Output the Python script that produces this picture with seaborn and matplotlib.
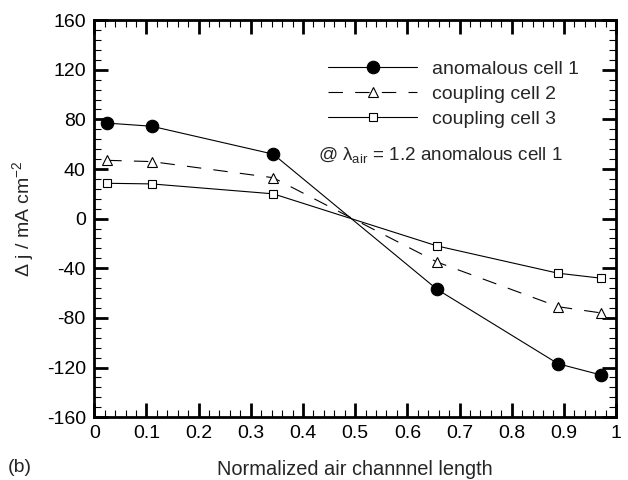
import numpy as np
import pandas as pd
import matplotlib
matplotlib.use("Agg")
import matplotlib.pyplot as plt
from matplotlib.ticker import MultipleLocator, FuncFormatter
import seaborn as sns

# data
x_pos = [0.025, 0.11, 0.343, 0.657, 0.889, 0.971]
cell1 = [77, 74.5, 52, -57, -117, -126]
cell2 = [47, 46, 33, -35, -71, -76]
cell3 = [28.5, 28, 20, -22, -44, -48]
labels = ["anomalous cell 1", "coupling cell 2", "coupling cell 3"]

sns.set_theme(style="ticks")
plt.rcParams["font.family"] = ["Liberation Sans", "DejaVu Sans"]
plt.rcParams["mathtext.fontset"] = "custom"
plt.rcParams["mathtext.rm"] = "Liberation Sans"
plt.rcParams["mathtext.it"] = "Liberation Sans"
plt.rcParams["axes.unicode_minus"] = False

fig, ax = plt.subplots(figsize=(6.28, 4.8), dpi=100)
fig.subplots_adjust(left=0.15, right=0.981, top=0.958, bottom=0.131)

styles = [
    dict(marker="o", linestyle="-", markersize=9, markerfacecolor="black"),
    dict(marker="^", linestyle=(0, (13, 11)), markersize=7, markerfacecolor="white"),
    dict(marker="s", linestyle="-", markersize=6, markerfacecolor="white"),
]
for y, lab, st in zip([cell1, cell2, cell3], labels, styles):
    df = pd.DataFrame({"x": x_pos, "y": y})
    sns.lineplot(data=df, x="x", y="y", ax=ax, color="black", linewidth=0.8,
                 markeredgecolor="black", markeredgewidth=0.8, label=lab, **st)

ax.set_xlim(0, 1)
ax.set_ylim(-160, 160)
ax.xaxis.set_major_locator(MultipleLocator(0.1))
ax.xaxis.set_minor_locator(MultipleLocator(0.02))
ax.yaxis.set_major_locator(MultipleLocator(40))
ax.yaxis.set_minor_locator(MultipleLocator(8))
ax.xaxis.set_major_formatter(FuncFormatter(lambda v, p: f"{v:g}"))
ax.yaxis.set_major_formatter(FuncFormatter(lambda v, p: f"{v:g}"))
ax.tick_params(which="both", direction="in", top=True, right=True,
               labelsize=14, colors="black")
ax.tick_params(axis="y", pad=6)
ax.tick_params(axis="x", pad=5.5)
ax.tick_params(which="major", length=10, width=2)
ax.tick_params(which="minor", length=5, width=0.8)
for sp in ax.spines.values():
    sp.set_linewidth(2)
    sp.set_color("black")

ax.set_xlabel("Normalized air channnel length", fontsize=14.4, va="center")
ax.xaxis.set_label_coords(0.5, -0.131)
ax.set_ylabel(r"$\Delta$ j / mA cm$^{-2}$", fontsize=14, labelpad=8)

leg = ax.legend(loc="upper left", bbox_to_anchor=(0.448, 0.898), frameon=False,
                fontsize=14, handlelength=4.6, handletextpad=0.77,
                labelspacing=0.37, borderpad=0, borderaxespad=0)

ax.text(0.428, 0.66, r"@ $\lambda_{\rm air}$ = 1.2 anomalous cell 1",
        transform=ax.transAxes, fontsize=13.6, ha="left", va="center")
fig.text(0.013, 0.027, "(b)", fontsize=14, ha="left", va="center")

fig.savefig("out.png", dpi=100)
plt.close(fig)
